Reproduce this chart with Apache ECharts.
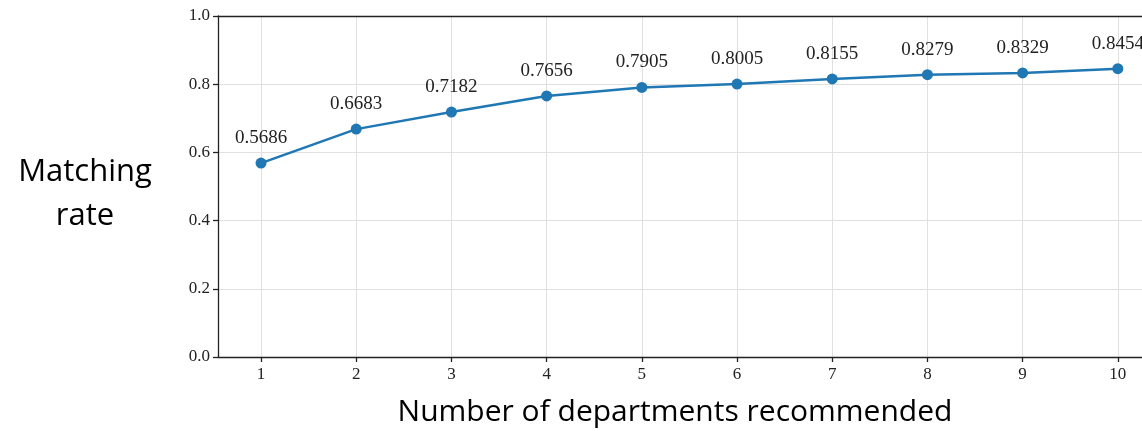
<!DOCTYPE html>
<html>
<head>
<meta charset="utf-8">
<script src="https://cdn.jsdelivr.net/npm/echarts@6/dist/echarts.min.js"></script>
<style>
  html, body { margin: 0; padding: 0; background: #fff; }
  #chart { width: 1142px; height: 431px; }
</style>
</head>
<body>
<div id="chart"></div>
<script>
// Number of departments recommended (x) and the matching rate reached (y)
const departments = [1, 2, 3, 4, 5, 6, 7, 8, 9, 10];
const matchingRate = [0.5686, 0.6683, 0.7182, 0.7656, 0.7905, 0.8005, 0.8155, 0.8279, 0.8329, 0.8454];
const yTicks = [0, 0.2, 0.4, 0.6, 0.8, 1.0];

// visible x range: the plot runs on past the right edge of the page
const xMin = 0.548;
const xMax = 10.254;

const serif = '"Liberation Serif", "DejaVu Serif", serif';
const sans = '"Open Sans", "Noto Sans", sans-serif';

const chart = echarts.init(document.getElementById('chart'), null, { renderer: 'canvas' });

chart.setOption({
  animation: false,
  backgroundColor: '#ffffff',
  grid: { left: 218, top: 16, bottom: 74, right: 0 },
  xAxis: [{
    type: 'value',
    min: xMin, max: xMax,
    axisLine: { show: true, lineStyle: { color: '#222', width: 1.3 } },
    axisTick: { show: true, customValues: departments, length: 5, lineStyle: { color: '#222', width: 1.3 } },
    axisLabel: {
      customValues: departments, margin: 9,
      fontFamily: serif, fontSize: 17, color: '#222'
    },
    splitLine: { show: true, lineStyle: { color: '#e0e0e0', width: 1 } }
  }, {
    // top frame line
    type: 'value', position: 'top',
    min: xMin, max: xMax,
    axisLine: { show: true, lineStyle: { color: '#222', width: 1.3 } },
    axisTick: { show: false },
    axisLabel: { show: false },
    splitLine: { show: false }
  }],
  yAxis: {
    type: 'value',
    min: 0, max: 1, interval: 0.2,
    axisLine: { show: true, lineStyle: { color: '#222', width: 1.3 } },
    axisTick: { show: true, length: 5, lineStyle: { color: '#222', width: 1.3 } },
    axisLabel: {
      margin: 8, fontFamily: serif, fontSize: 17, color: '#222',
      formatter: v => v.toFixed(1)
    },
    splitLine: { show: true, lineStyle: { color: '#e0e0e0', width: 1 } }
  },
  series: [{
    type: 'line',
    xAxisIndex: 0,
    data: departments.map((d, i) => [d, matchingRate[i]]),
    symbol: 'circle',
    symbolSize: 11,
    lineStyle: { color: '#1f77b4', width: 2.5 },
    itemStyle: { color: '#1f77b4' },
    label: {
      show: true, position: 'top', distance: 10,
      fontFamily: serif, fontSize: 19, color: '#222',
      formatter: p => p.value[1].toFixed(4)
    },
    clip: false
  }],
  graphic: [
    {
      type: 'text', x: 85, y: 194,
      style: {
        text: 'Matching\nrate',
        align: 'center', verticalAlign: 'middle',
        font: '31px ' + sans, lineHeight: 44, fill: '#000'
      }
    },
    {
      type: 'text', x: 675, y: 412,
      style: {
        text: 'Number of departments recommended',
        align: 'center', verticalAlign: 'middle',
        font: '30px ' + sans, fill: '#000'
      }
    }
  ]
});
</script>
</body>
</html>
